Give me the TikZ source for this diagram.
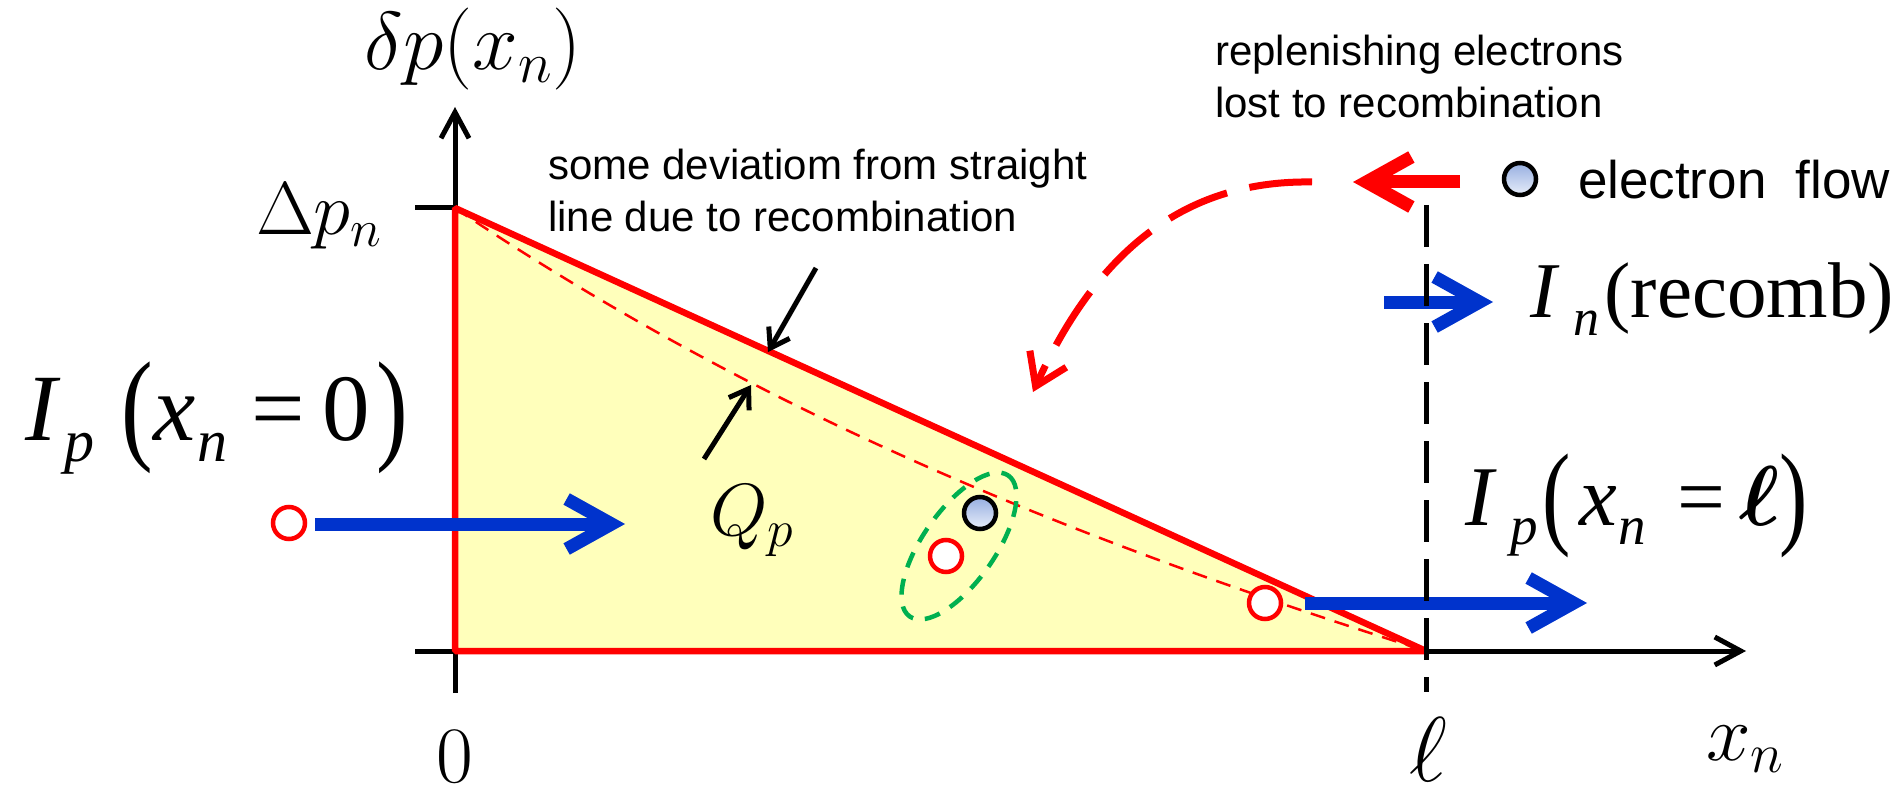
\RequirePackage{fix-cm}
\documentclass[tikz,border=0pt]{standalone}
\usepackage{amsmath}
\usepackage{fontspec}
\newfontfamily\sanslbl{Liberation Sans}
\newfontfamily\tnr{Liberation Serif}
\usetikzlibrary{arrows.meta}
\definecolor{myred}{RGB}{255,0,0}
\definecolor{myblue}{RGB}{0,51,204}
\definecolor{myyellow}{RGB}{255,255,187}
\definecolor{mygreen}{RGB}{0,176,80}
\definecolor{eltop}{RGB}{150,174,224}
\definecolor{elbot}{RGB}{232,238,250}
\newcommand{\tallp}[3]{\raisebox{#1}{\scalebox{1}[#2]{#3}}}
\tikzset{
  lbl/.style={inner sep=0pt, outer sep=0pt},
  axisline/.style={black, line width=5pt, -{Straight Barb[length=26pt,width=28pt]}},
  plainline/.style={black, line width=5pt},
  bluearrow/.style={myblue, line width=13pt, -{Straight Barb[length=45pt,width=50pt]}},
  redarrow/.style={myred, line width=13pt, -{Straight Barb[length=45pt,width=50pt]}},
  reddasharrow/.style={myred, line width=7pt, dash pattern=on 63pt off 23pt, -{Straight Barb[length=30pt,width=40pt]}},
  blackarrow/.style={black, line width=5pt, -{Straight Barb[length=18pt,width=24pt]}},
  hole/.style={circle, draw=myred, line width=4.5pt, fill=white, minimum size=32pt, inner sep=0pt},
  electron/.style={circle, draw=black, line width=4.5pt, top color=eltop, bottom color=elbot, minimum size=32pt, inner sep=0pt},
  note/.style={lbl, align=left, font={\sanslbl\fontsize{42}{52}\selectfont}},
}
\begin{document}
\begin{tikzpicture}[x=1pt,y=-1pt]
\useasboundingbox (0,0) rectangle (1897,794);
% key points
\coordinate (O) at (455,651);
\coordinate (T) at (455,208);
\coordinate (L) at (1426,651);
\coordinate (ytop) at (455,107);
\coordinate (ybot) at (455,693);
\coordinate (xl) at (415,651);
\coordinate (xr) at (1746,651);
\coordinate (tickl) at (415,208);
\coordinate (lt) at (1426,205);
\coordinate (lb) at (1426,692);
% axes
\draw[axisline] (ybot) -- (ytop);
\draw[axisline] (xl) -- (xr);
\draw[plainline] (tickl) -- (T);
% triangle
\fill[myyellow] (T) -- (O) -- (L) -- cycle;
\draw[myred, line width=6.5pt, line join=bevel] (T) -- (O) -- (L) -- cycle;
\draw[myred, line width=2.5pt, dash pattern=on 15pt off 10pt] (T) .. controls (779,426) and (1102,548) .. (L);
% axis labels
\node[lbl, anchor=base, font=\fontsize{82}{82}\selectfont] (ylab) at (473,70) {$\delta p(x_n)$};
\node[lbl, anchor=base east, font=\fontsize{75}{75}\selectfont] (dplab) at (382,235) {$\Delta p_n$};
\node[lbl, anchor=base, font=\fontsize{80}{80}\selectfont] (zero) at (455,782) {$0$};
\node[lbl, anchor=base, font=\fontsize{92}{92}\selectfont] (elllab) at (1428,781) {$\ell$};
\node[lbl, anchor=base west, font=\fontsize{80}{80}\selectfont] (xlab) at (1706,760) {$x_n$};
\node[lbl, anchor=base west, font=\fontsize{74}{74}\selectfont] (qlab) at (710,535) {$Q_p$};
% hole injection at x=0
\node[hole] (h1) at (289,523) {};
\coordinate (b1s) at (315,524);
\coordinate (b1e) at (625,524);
\draw[bluearrow] (b1s) -- (b1e);
\node[lbl, anchor=base west] (ip0) at (25,440) {\tnr\fontsize{95}{95}\selectfont\itshape I\kern8pt\raisebox{-21pt}{\fontsize{60}{60}\selectfont p}\kern27pt\tallp{-7pt}{1.3}{\upshape(}x\kern2pt\raisebox{-21pt}{\fontsize{60}{60}\selectfont n}\kern24pt{\upshape=}\kern18pt{\upshape 0}\kern6pt\tallp{-7pt}{1.3}{\upshape)}};
% recombination pair
\draw[mygreen, line width=4.5pt, dash pattern=on 16pt off 12pt, rotate around={55:(959,546)}] (959,546) ellipse [x radius=86, y radius=36];
\node[electron] (e1) at (980,513) {};
\node[hole] (h2) at (946,556) {};
% hole leaving at l
\node[hole] (h3) at (1265,603) {};
\coordinate (b2s) at (1305,603);
\coordinate (b2e) at (1587,603);
\draw[bluearrow] (b2s) -- (b2e);
\node[lbl, anchor=base west] (ipl) at (1465,525) {\tnr\fontsize{85}{85}\selectfont\itshape I\kern17pt\raisebox{-19pt}{\fontsize{55}{55}\selectfont p}\kern5pt\tallp{-8pt}{1.35}{\upshape(}\kern8pt x\kern2pt\raisebox{-19pt}{\fontsize{55}{55}\selectfont n}\kern31pt{\upshape=}\kern14pt{$\boldsymbol{\ell}$}\kern0pt\tallp{-8pt}{1.35}{\upshape)}};
% recombination current
\coordinate (b3s) at (1384,302);
\coordinate (b3e) at (1493,302);
\draw[bluearrow] (b3s) -- (b3e);
\node[lbl, anchor=base west] (inr) at (1530,317) {\tnr\fontsize{79}{79}\selectfont\textit{I}\kern14pt\raisebox{-18pt}{\fontsize{52}{52}\selectfont\itshape n}\kern5pt(recomb)};
% l boundary
\draw[black, line width=5pt, dash pattern=on 42pt off 17pt] (lt) -- (lb);
% deviation annotation
\node[note, anchor=north west] (devtxt) at (548,149) {some deviatiom from straight\\line due to recombination};
\coordinate (a1s) at (816,268);
\coordinate (a1e) at (768,352);
\coordinate (a2s) at (704,459);
\coordinate (a2e) at (751,385);
\draw[blackarrow] (a1s) -- (a1e);
\draw[blackarrow] (a2s) -- (a2e);
% electron supply
\node[note, anchor=north west] (reptxt) at (1215,35) {replenishing electrons\\lost to recombination};
\coordinate (r1s) at (1460,182);
\coordinate (r1e) at (1353,182);
\draw[redarrow] (r1s) -- (r1e);
\coordinate (r2s) at (1312,182);
\coordinate (r2e) at (1033,392);
\draw[reddasharrow] (r2s) .. controls (1190,180) and (1100,245) .. (r2e);
% legend
\node[electron] (leg) at (1520,179) {};
\node[lbl, anchor=base west, font={\sanslbl\fontsize{53}{53}\selectfont}] (legtxt) at (1578,199) {electron\ \ flow};
\end{tikzpicture}
\end{document}
